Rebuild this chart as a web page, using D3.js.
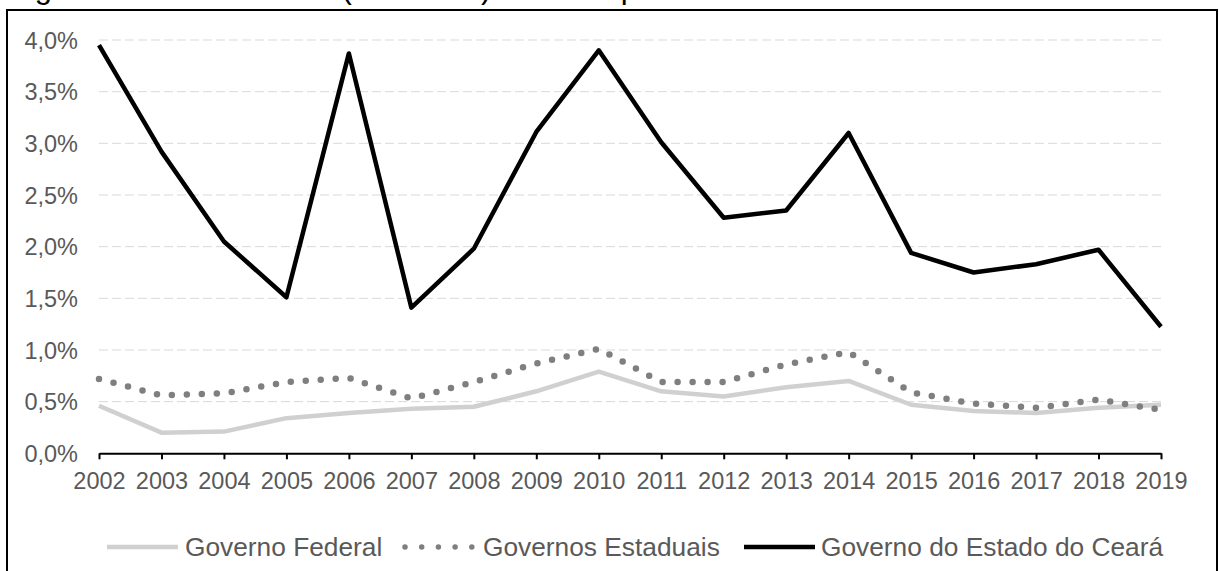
<!DOCTYPE html>
<html>
<head>
<meta charset="utf-8">
<script src="https://cdn.jsdelivr.net/npm/d3@7"></script>
<style>
  html, body { margin: 0; padding: 0; background: #ffffff; }
  svg { display: block; font-family: "Liberation Sans", Arial, sans-serif; }
</style>
</head>
<body>
<svg id="chart" width="1219" height="571"></svg>
<script>
// Investimento público em % do PIB, 2002–2019
const years = ["2002","2003","2004","2005","2006","2007","2008","2009","2010",
               "2011","2012","2013","2014","2015","2016","2017","2018","2019"];
const governoFederal = [0.46,0.20,0.21,0.34,0.39,0.43,0.45,0.60,0.79,
                        0.60,0.55,0.64,0.70,0.47,0.41,0.39,0.44,0.47];
const governosEstaduais = [0.72,0.56,0.58,0.69,0.73,0.53,0.69,0.87,1.01,
                           0.69,0.69,0.86,0.98,0.59,0.48,0.44,0.52,0.42];
const governoCeara = [3.95,2.92,2.05,1.51,3.87,1.41,1.98,3.11,3.90,
                      3.01,2.28,2.35,3.10,1.94,1.75,1.83,1.97,1.225];
const yTicks = [0,0.5,1.0,1.5,2.0,2.5,3.0,3.5,4.0];
const seriesNames = ["Governo Federal","Governos Estaduais","Governo do Estado do Ceará"];
const titleText = "Figura 5 – Investimento (% do PIB) do setor público";

const svg = d3.select("#chart");

// Caption line above the framed figure (page top crops into it)
svg.append("text")
  .attr("x", 9).attr("y", -2)
  .attr("font-size", 31)
  .attr("fill", "#000")
  .text(titleText);

// Frame
svg.append("rect")
  .attr("x", 7).attr("y", 10)
  .attr("width", 1210).attr("height", 600)
  .attr("fill", "none").attr("stroke", "#000").attr("stroke-width", 2);

const x = d3.scalePoint().domain(years).range([99, 1161]);
const y = d3.scaleLinear().domain([0, 4]).range([453.3, 40]);

// Horizontal dashed gridlines
svg.append("g")
  .selectAll("line")
  .data(yTicks.filter(d => d > 0))
  .join("line")
  .attr("x1", 99).attr("x2", 1161)
  .attr("y1", d => y(d)).attr("y2", d => y(d))
  .attr("stroke", "#d9d9d9").attr("stroke-width", 1)
  .attr("stroke-dasharray", "9,4");

// Y labels (pt-BR decimal comma)
const fmt = d => d.toFixed(1).replace(".", ",") + "%";
const yAxis = d3.axisLeft(y).tickValues(yTicks).tickFormat(fmt).tickSize(0).tickPadding(0);
const gy = svg.append("g").attr("transform", "translate(78,0)").call(yAxis);
gy.select(".domain").remove();
gy.selectAll("text")
  .attr("font-size", 23.5).attr("fill", "#595959")
  .attr("font-family", "Liberation Sans, Arial, sans-serif")
  .attr("dy", "0.35em");

// X axis
const xAxis = d3.axisBottom(x).tickSize(6).tickPadding(13).tickSizeOuter(0);
const gx = svg.append("g").attr("transform", "translate(0,453.3)").call(xAxis);
gx.select(".domain").attr("stroke", "#000").attr("stroke-width", 2);
gx.selectAll(".tick line").attr("stroke", "#000").attr("stroke-width", 2);
gx.selectAll("text")
  .attr("font-size", 23.5).attr("fill", "#595959")
  .attr("font-family", "Liberation Sans, Arial, sans-serif");

const line = d3.line().x((d, i) => x(years[i])).y(d => y(d));

svg.append("path").datum(governoFederal)
  .attr("d", line).attr("fill", "none")
  .attr("stroke", "#d0d0d0").attr("stroke-width", 4.5)
  .attr("stroke-linejoin", "round");

svg.append("path").datum(governosEstaduais)
  .attr("d", line).attr("fill", "none")
  .attr("stroke", "#7f7f7f").attr("stroke-width", 6.5)
  .attr("stroke-linecap", "round")
  .attr("stroke-dasharray", "0,15");

svg.append("path").datum(governoCeara)
  .attr("d", line).attr("fill", "none")
  .attr("stroke", "#000").attr("stroke-width", 4.5)
  .attr("stroke-linejoin", "round");

// Legend
const legendY = 547;
const legendItems = [
  { name: seriesNames[0], x1: 107, x2: 178, tx: 185, stroke: "#d0d0d0", w: 4.5, dash: null },
  { name: seriesNames[1], x1: 405, x2: 472, tx: 483, stroke: "#7f7f7f", w: 5.5, dash: "0,16.7" },
  { name: seriesNames[2], x1: 744, x2: 815, tx: 821, stroke: "#000", w: 4.5, dash: null }
];
const lg = svg.append("g").selectAll("g").data(legendItems).join("g");
lg.append("line")
  .attr("x1", d => d.x1).attr("x2", d => d.x2)
  .attr("y1", legendY).attr("y2", legendY)
  .attr("stroke", d => d.stroke).attr("stroke-width", d => d.w)
  .attr("stroke-linecap", d => d.dash ? "round" : "butt")
  .attr("stroke-dasharray", d => d.dash);
lg.append("text")
  .attr("x", d => d.tx).attr("y", legendY)
  .attr("dy", "0.35em")
  .attr("font-size", 26.3).attr("fill", "#595959")
  .text(d => d.name);
</script>
</body>
</html>
